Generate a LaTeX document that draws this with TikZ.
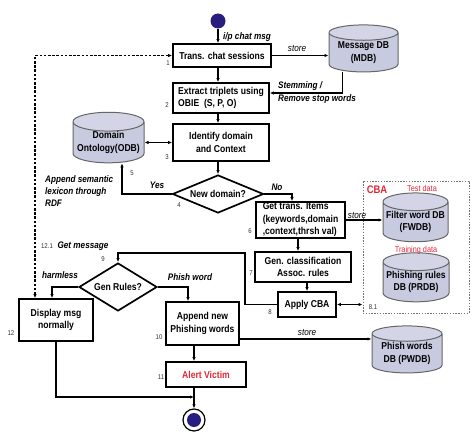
\documentclass[tikz,border=0pt]{standalone}
\usepackage{fontspec}
\setmainfont{Liberation Sans}[FakeStretch=0.86]
\usepackage{tikz}
\usetikzlibrary{arrows.meta,positioning,shapes.geometric}
\definecolor{phnavy}{RGB}{40,30,128}
\definecolor{phdbfill}{RGB}{200,202,224}
\definecolor{phred}{RGB}{226,38,54}
\colorlet{phgray}{black!60}
\newcommand{\phboxfont}{\fontsize{10}{12.5}\selectfont\bfseries}
\tikzset{
  phproc/.style={
    draw,
    line width=1.7pt,
    align=center,
    inner sep=1pt,
    font=\phboxfont
  },
  phdecide/.style={diamond,draw,line width=1.7pt,aspect=2.4,inner sep=0pt,
                   font=\phboxfont},
  phdb/.style={cylinder,shape border rotate=90,aspect=0.3,draw=phgray,
               line width=1pt,cylinder uses custom fill,
               cylinder body fill=phdbfill,cylinder end fill=phdbfill!80!white,
               align=center,inner sep=0pt,font=\phboxfont},
  phstart/.style={circle,fill=phnavy,minimum size=15pt,inner sep=0pt},
  phring/.style={circle,draw,line width=1.2pt,fill=white,minimum size=22pt,
                 inner sep=0pt},
  phcba/.style={draw=black!55,line width=1pt,dash pattern=on 1.4pt off 1.4pt},
  phflow/.style={-{Latex[length=4pt,width=3.4pt]},line width=1.1pt},
  phboth/.style={{Latex[length=4pt,width=3.4pt]}-{Latex[length=4pt,width=3.4pt]},
                 line width=1.1pt},
  phloop/.style={phboth,line width=1.4pt,dash pattern=on 2.6pt off 1.6pt},
  phnum/.style={font=\fontsize{7}{8}\selectfont,text=black!80,inner sep=0pt},
  phlabel/.style={font=\fontsize{9.5}{12}\selectfont\bfseries\itshape,
                  inner sep=0pt,align=left},
  phnote/.style={font=\fontsize{8.5}{9}\selectfont,text=phred,inner sep=0pt}
}

\begin{document}
\begin{tikzpicture}[x=1pt,y=-1pt]
  \useasboundingbox (0,0) rectangle (474,436);

  % main column
  \node[phstart] (start) at (218,21) {};
  \node[phproc,minimum width=98pt,minimum height=23pt] (trans) at (222,55.5)
    {Trans. chat sessions};
  \node[phproc,align=left,minimum width=96pt,minimum height=30pt] (extract) at (221,98)
    {Extract triplets using\\OBIE\ \ (S, P, O)};
  \node[phproc,minimum width=96pt,minimum height=37pt] (ident) at (221,142.5)
    {Identify domain\\and Context};
  \node[phdecide,minimum width=91pt,minimum height=38pt] (newdom) at (218,194)
    {New domain?};

  % databases
  \node[phdb,minimum width=69pt,minimum height=47pt] (mdb) at (363.5,52.5)
    {Message DB\\(MDB)};
  \node[phdb,minimum width=71pt,minimum height=47pt] (odb) at (108.5,142.5)
    {Domain\\Ontology(ODB)};

  % CBA part
  \node[phcba,minimum width=106pt,minimum height=132pt] (cba) at (416,247) {};
  \node[phdb,minimum width=65pt,minimum height=45pt] (fwdb) at (415.5,222)
    {Filter word DB\\(FWDB)};
  \node[phdb,minimum width=66pt,minimum height=45pt] (prdb) at (416,282)
    {Phishing rules\\DB (PRDB)};
  \node[font=\fontsize{11}{12}\selectfont\bfseries,text=phred,inner sep=0pt]
    (cbatitle) at (377,190) {CBA};
  \node[phnote] (testdata) at (422,188) {Test data};
  \node[phnote] (traindata) at (416,250.5) {Training data};

  \node[phproc,align=left,minimum width=89pt,minimum height=36pt] (gettrans) at (300.5,220)
    {Get trans. Items\\(keywords,domain\\,context,thrsh val)};
  \node[phproc,minimum width=96pt,minimum height=30pt] (genclass) at (303,267)
    {Gen. classification\\Assoc. rules};
  \node[phproc,minimum width=58pt,minimum height=25pt] (apply) at (307,304.5)
    {Apply CBA};

  % lower part
  \node[phdecide,minimum width=78pt,minimum height=48pt] (genrules) at (118,287)
    {Gen Rules?};
  \node[phproc,minimum width=74pt,minimum height=42pt] (display) at (56,320)
    {Display msg\\normally};
  \node[phproc,minimum width=73pt,minimum height=43pt] (append) at (202.5,323.5)
    {Append new\\Phishing words};
  \node[phproc,text=phred,minimum width=80pt,minimum height=25pt] (alert) at (206,374.5)
    {Alert Victim};
  \node[phdb,minimum width=70pt,minimum height=47pt] (pwdb) at (407,353.5)
    {Phish words\\DB (PWDB)};
  \node[phring] (stop) at (194,420) {};
  \node[phstart,minimum size=14pt] (stopdot) at (194,420) {};
  \coordinate (merge) at (194,397);
  \coordinate (cbaturn) at (245,253);

  % connectors
  \draw[phflow] (start) -- (start |- trans.north);
  \draw[phflow] (trans.east) -- (trans.east -| mdb.west);
  \draw[phflow] (trans.south -| start) -- (extract.north -| start);
  \draw[phflow] ([xshift=-21pt]mdb.south) |- ([yshift=5pt]extract.east);
  \draw[phflow] (extract.south -| start) -- (ident.north -| start);
  \draw[phboth] (odb.east) -- (odb.east -| ident.west);
  \draw[phflow] (ident.south -| newdom) -- (newdom.north);
  \draw[phflow] (newdom.west) -| ([xshift=13.5pt]odb.south);
  \draw[phflow] (newdom.east) -| ([xshift=-8.5pt]gettrans.north);
  \draw[phflow] (gettrans.east) -- (gettrans.east -| fwdb.west);
  \draw[phflow] ([xshift=-2.5pt]gettrans.south) -- ([xshift=-5pt]genclass.north);
  \draw[phflow] (genclass.south -| apply) -- (apply.north);
  \draw[phboth] (apply.east) -- (apply.east -| cba.west);
  \draw[phflow] (apply.west) -| (cbaturn) -| (genrules.north);
  \draw[phflow] (genrules.west) -| ([xshift=-4pt]display.north);
  \draw[phflow] (genrules.east) -| ([xshift=-14.5pt]append.north);
  \draw[phflow] (append.south -| stop) -- (alert.north -| stop);
  \draw[phflow] ([yshift=-15.5pt]append.east) -- ([yshift=-15.5pt]append.east -| pwdb.west);
  \draw[phflow] (display.south) |- (merge);
  \draw[phflow] (alert.south -| stop) -- (stop.north);
  \draw[phloop] ([xshift=-21pt]display.north) |- (trans.west);

  % labels
  \node[phlabel] (ipmsg) at (247,37) {i/p chat msg};
  \node[phlabel,font=\fontsize{9.5}{12}\selectfont\itshape] (store1) at (297,48) {store};
  \node[phlabel,anchor=west] (stem) at (278,93) {Stemming /\\[1pt]Remove stop words};
  \node[phlabel] (yes) at (157,185) {Yes};
  \node[phlabel] (no) at (277,187) {No};
  \node[phlabel,anchor=west] (rdf) at (45,191) {Append semantic\\lexicon through\\RDF};
  \node[phlabel,font=\fontsize{9.5}{12}\selectfont\itshape] (store2) at (357,215) {store};
  \node[phlabel] (getmsg) at (83,246) {Get message};
  \node[phlabel] (harmless) at (60,275) {harmless};
  \node[phlabel] (phword) at (190,277) {Phish word};
  \node[phlabel,font=\fontsize{9.5}{12}\selectfont\itshape] (store3) at (307,332) {store};

  \node[phnum] (n1) at (168,63) {1};
  \node[phnum] (n2) at (167,105) {2};
  \node[phnum] (n3) at (167,157) {3};
  \node[phnum] (n4) at (179,205) {4};
  \node[phnum] (n5) at (132,173) {5};
  \node[phnum] (n6) at (250,231) {6};
  \node[phnum] (n7) at (251,273) {7};
  \node[phnum] (n8) at (270,312) {8};
  \node[phnum] (n81) at (373,307) {8.1};
  \node[phnum] (n9) at (103,259) {9};
  \node[phnum] (n10) at (159,337) {10};
  \node[phnum] (n11) at (161,377) {11};
  \node[phnum] (n12) at (11,333) {12};
  \node[phnum] (n121) at (47,246) {12.1};
\end{tikzpicture}
\end{document}
